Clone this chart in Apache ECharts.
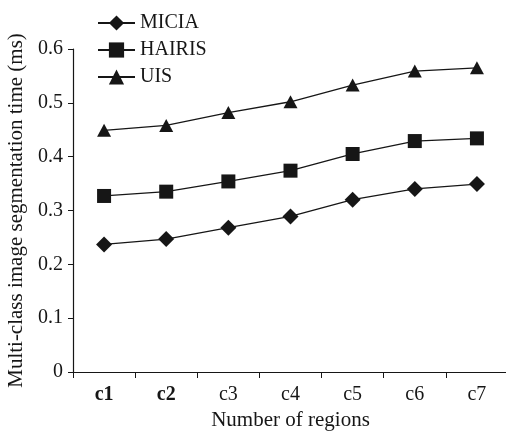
<!DOCTYPE html>
<html><head><meta charset="utf-8">
<script src="https://cdn.jsdelivr.net/npm/echarts@6/dist/echarts.min.js"></script>
<style>html,body{margin:0;padding:0;background:#fff}#c{width:506px;height:432px}</style>
</head><body><div id="c"></div>
<script>
var categories = ['c1','c2','c3','c4','c5','c6','c7'];
var micia = [0.237,0.247,0.268,0.289,0.320,0.340,0.349];
var hairis = [0.327,0.335,0.354,0.374,0.405,0.429,0.434];
var uis = [0.449,0.458,0.482,0.502,0.533,0.559,0.565];
var yTicks = [0,0.1,0.2,0.3,0.4,0.5,0.6];

var FONT = '"Liberation Serif", "Times New Roman", serif';
var INK = '#161616';
var chart = echarts.init(document.getElementById('c'), null, {renderer:'canvas'});
function mk(name, data, symbol, size){
  return {name:name, type:'line', data:data, symbol:symbol, symbolSize:size,
    lineStyle:{color:INK,width:1.3}, itemStyle:{color:INK}, animation:false};
}
chart.setOption({
  animation:false,
  textStyle:{fontFamily:FONT},
  grid:{left:73, right:-2, top:49, bottom:60, containLabel:false, outerBoundsMode:'none'},
  legend:{orient:'vertical', left:92, top:8, itemWidth:37, itemHeight:19, itemGap:7,
    textStyle:{fontFamily:FONT,fontSize:20,color:INK},
    data:['MICIA','HAIRIS','UIS']},
  xAxis:{type:'category', data:categories, boundaryGap:true,
    name:'Number of regions', nameLocation:'middle', nameGap:36,
    nameTextStyle:{fontFamily:FONT,fontSize:21,color:INK},
    axisLine:{lineStyle:{color:INK,width:1.2}},
    axisTick:{show:true,length:6,interval:0,lineStyle:{color:INK},alignWithLabel:false},
    axisLabel:{fontFamily:FONT,fontSize:20,color:INK,margin:13,interval:0,hideOverlap:false,
      formatter:function(v,i){return i<2?'{b|'+v+'}':v;},
      rich:{b:{fontFamily:FONT,fontSize:20,color:INK,fontWeight:'bold'}}},
    splitLine:{show:false}},
  yAxis:{type:'value', min:0, max:0.6, interval:0.1,
    name:'Multi-class image segmentation time (ms)', nameLocation:'middle', nameGap:41,
    nameTextStyle:{fontFamily:FONT,fontSize:21,color:INK},
    axisLine:{show:true,lineStyle:{color:INK,width:1.2}},
    axisTick:{show:true,length:5,lineStyle:{color:INK}},
    axisLabel:{fontFamily:FONT,fontSize:20,color:INK,margin:10,
      formatter:function(v){ return yTicks.indexOf(+v.toFixed(1))>=0 ? (v===0?'0':v.toFixed(1)) : ''; }},
    splitLine:{show:false}},
  series:[
    mk('MICIA', micia, 'diamond', [16,16]),
    mk('HAIRIS', hairis, 'rect', [14,14]),
    mk('UIS', uis, 'triangle', [14,13])
  ]
});
</script></body></html>
